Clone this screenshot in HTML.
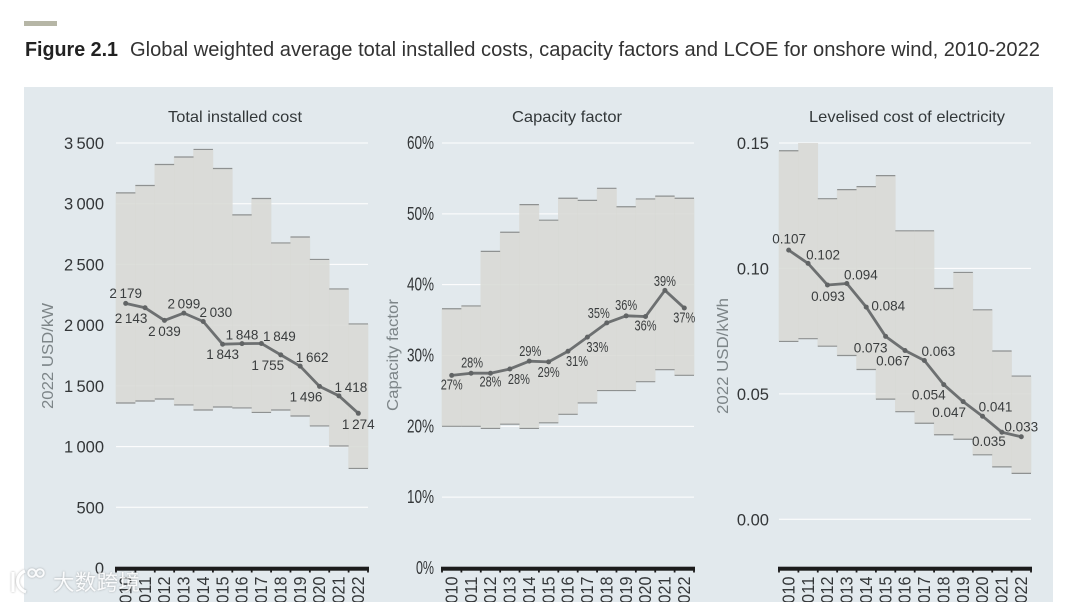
<!DOCTYPE html>
<html lang="en">
<head>
<meta charset="utf-8">
<title>Figure 2.1 Onshore wind costs</title>
<style>
html,body{margin:0;padding:0;background:#fff;width:1080px;height:602px;overflow:hidden}
svg{display:block;font-family:"Liberation Sans","Noto Sans CJK SC",sans-serif}
.wm{filter:drop-shadow(0 0 1px rgba(90,90,90,.55))}
</style>
</head>
<body>
<svg id="figure" width="1080" height="602" viewBox="0 0 1080 602" xmlns="http://www.w3.org/2000/svg">
  <rect x="24" y="21" width="33" height="5" fill="#b6b6a6"/>
  <text x="25" y="56" font-size="20" font-weight="bold" fill="#222" textLength="93" lengthAdjust="spacingAndGlyphs">Figure 2.1</text>
  <text x="130" y="56" font-size="20" fill="#333" textLength="910" lengthAdjust="spacingAndGlyphs">Global weighted average total installed costs, capacity factors and LCOE for onshore wind, 2010-2022</text>
  <rect x="24" y="87" width="1029" height="515" fill="#e2e9ed"/>
  <g id="charts"></g>
  <g class="wm" opacity="0.85">
    <g fill="none" stroke="#fff" stroke-width="3.2">
      <path d="M13 572 V592"/>
      <path d="M25 571 C15 575 15 588 26 592"/>
      <circle cx="32" cy="573" r="3.8" stroke-width="2"/>
      <circle cx="40" cy="573" r="3.8" stroke-width="2"/>
    </g>
    <text x="53" y="590" font-size="21.5" fill="#fff" textLength="87" font-family="'Noto Sans CJK SC',sans-serif">大数跨境</text>
  </g>
</svg>
<script>
const years = ['2010','2011','2012','2013','2014','2015','2016','2017','2018','2019','2020','2021','2022'];

const costHigh = [3089,3150,3323,3385,3447,3290,2908,3043,2677,2726,2541,2298,2010];
const costLow = [1359,1375,1392,1343,1301,1326,1318,1281,1301,1252,1170,1005,820];
const costAvg = [2179,2143,2039,2099,2030,1843,1848,1849,1755,1662,1496,1418,1274];
const costLabels = ['2\u2009179','2\u2009143','2\u2009039','2\u2009099','2\u2009030','1\u2009843','1\u2009848','1\u2009849','1\u2009755','1\u2009662','1\u2009496','1\u2009418','1\u2009274'];
const costTicks = [0,500,1000,1500,2000,2500,3000,3500];
const costTickLabels = ['0','500','1\u2009000','1\u2009500','2\u2009000','2\u2009500','3\u2009000','3\u2009500'];

const cfHigh = [36.6,37.0,44.7,47.4,51.3,49.1,52.2,51.9,53.6,51.0,52.1,52.5,52.2];
const cfLow = [20.0,20.0,19.7,20.3,19.7,20.5,21.7,23.3,25.05,25.05,26.3,28.0,27.2];
const cfAvg = [27.2,27.5,27.5,28.1,29.2,29.1,30.6,32.6,34.6,35.6,35.5,39.2,36.7];
const cfLabels = ['27%','28%','28%','28%','29%','29%','31%','33%','35%','36%','36%','39%','37%'];
const cfTicks = [0,10,20,30,40,50,60];
const cfTickLabels = ['0%','10%','20%','30%','40%','50%','60%'];

const lcoeHigh = [0.1469,0.151,0.1278,0.1314,0.1326,0.137,0.115,0.115,0.092,0.0984,0.0835,0.0671,0.0571];
const lcoeLow = [0.0709,0.072,0.069,0.0653,0.0597,0.0479,0.0429,0.0383,0.0337,0.0319,0.0257,0.0209,0.0183];
const lcoeAvg = [0.1073,0.102,0.0934,0.094,0.0846,0.0729,0.0673,0.0633,0.0537,0.0469,0.0411,0.0347,0.0329];
const lcoeLabels = ['0.107','0.102','0.093','0.094','0.084','0.073','0.067','0.063','0.054','0.047','0.041','0.035','0.033'];
const lcoeTicks = [0,0.05,0.10,0.15];
const lcoeTickLabels = ['0.00','0.05','0.10','0.15'];

const SVGNS = 'http://www.w3.org/2000/svg';
const root = document.getElementById('charts');
const PLOT_TOP = 143, AXIS_Y = 568, PLOT_W = 252;

function make(tag, parent, props, text) {
  const el = document.createElementNS(SVGNS, tag);
  for (const k in props) el.setAttribute(k, props[k]);
  if (text !== undefined) el.textContent = text;
  parent.appendChild(el);
  return el;
}

function drawChart(c) {
  const g = make('g', root, {});
  
  
  const bandW = PLOT_W / years.length;
  const xBand = i => c.x0 + i * bandW;
  const xMid = i => xBand(i) + bandW / 2;
  const y = v => c.y0 - (v - c.v0) * c.scale;

  const clip = make('clipPath', g, {id: c.id + '-clip'});
  make('rect', clip, {x: c.x0 - 2, y: PLOT_TOP, width: PLOT_W + 4, height: AXIS_Y - PLOT_TOP});

  const title = make('text', g, {x: c.titleX, y: 122, 'font-size': 16, fill: '#33383a', 'text-anchor': 'middle', textLength: c.titleLen, lengthAdjust: 'spacingAndGlyphs'}, c.title);
  
  

  const yTitle = make('text', g, {transform: 'translate(' + c.yTitleX + ',' + c.yTitleY + ') rotate(-90)', 'font-size': 16, fill: '#7d8588', 'text-anchor': 'middle', textLength: c.yTitleLen, lengthAdjust: 'spacingAndGlyphs'}, c.yTitle);
  
  

  c.ticks.forEach((t, i) => {
    const grid = make('line', g, {x1: c.x0, x2: c.x0 + PLOT_W, y1: y(t), y2: y(t), stroke: '#ffffff', 'stroke-width': 1});
    
    
    const p = {x: c.tickX, y: y(t) + 6, 'font-size': c.tickSize || 16.5, fill: '#333638', 'text-anchor': 'end'};
    if (c.tickLen) { p.textLength = c.tickLen(c.tickLabels[i]); p.lengthAdjust = 'spacingAndGlyphs'; }
    const lab = make('text', g, p, c.tickLabels[i]);
    
    
  });

  const bars = make('g', g, {'clip-path': 'url(#' + c.id + '-clip)'});
  
  
  years.forEach((yr, i) => {
    const top = y(c.high[i]), bot = y(c.low[i]);
    const bar = make('rect', bars, {x: xBand(i) - 0.3, y: top, width: bandW + 0.6, height: bot - top, fill: '#d8d9d5', 'fill-opacity': 0.87});
    
    
  });
  years.forEach((yr, i) => {
    const hi = make('line', bars, {x1: xBand(i), x2: xBand(i + 1), y1: y(c.high[i]), y2: y(c.high[i]), stroke: '#8e9191', 'stroke-width': 1.2});
    
    
    const lo = make('line', bars, {x1: xBand(i), x2: xBand(i + 1), y1: y(c.low[i]), y2: y(c.low[i]), stroke: '#8e9191', 'stroke-width': 1.2});
    
    
  });

  const axis = make('rect', g, {x: c.x0 - 1, y: AXIS_Y - 1.3, width: PLOT_W + 2, height: 4, fill: '#1c1c1c'});
  
  
  for (let i = 0; i <= years.length; i++) {
    const tick = make('line', g, {x1: xBand(i), x2: xBand(i), y1: AXIS_Y + 2, y2: AXIS_Y + 4.5, stroke: '#1c1c1c', 'stroke-width': 1.8});
    
    
  }
  years.forEach((yr, i) => {
    const lab = make('text', g, {transform: 'translate(' + (xMid(i) + 5.7) + ',576.5) rotate(-90)', 'font-size': 17.5, fill: '#333638', 'text-anchor': 'end', textLength: 36, lengthAdjust: 'spacingAndGlyphs'}, yr);
    
    
  });

  const pts = c.avg.map((v, i) => xMid(i) + ',' + y(v)).join(' ');
  const line = make('polyline', g, {points: pts, fill: 'none', stroke: '#6d7071', 'stroke-width': 2.8, 'stroke-linejoin': 'round'});
  
  
  c.avg.forEach((v, i) => {
    const dot = make('circle', g, {cx: xMid(i), cy: y(v), r: 2.5, fill: '#616465'});
    
    
  });
  c.avg.forEach((v, i) => {
    const p = {x: xMid(i) + c.dx[i], y: y(v) + c.dy[i], 'font-size': c.labelSize || 13.5, fill: '#3a3d3e', 'text-anchor': 'middle'};
    if (c.labelLen) { p.textLength = c.labelLen; p.lengthAdjust = 'spacingAndGlyphs'; }
    const lab = make('text', g, p, c.labels[i]);
    
    
  });
}

drawChart({
  id: 'installed-cost', title: 'Total installed cost', titleX: 235, titleLen: 134,
  yTitle: '2022 USD/kW', yTitleX: 53, yTitleY: 356, yTitleLen: 106,
  x0: 116, y0: AXIS_Y, v0: 0, scale: (AXIS_Y - PLOT_TOP) / 3500, tickX: 104,
  ticks: costTicks, tickLabels: costTickLabels,
  high: costHigh, low: costLow, avg: costAvg, labels: costLabels,
  dx: [0,-14,0,0,12.6,0,0,18,-13,12,-13.5,12,0],
  dy: [-5.5,15,15.5,-4.5,-4.5,15,-4,-2.5,15,-4,15,-4,15.5]
});
drawChart({
  id: 'capacity-factor', title: 'Capacity factor', titleX: 567, titleLen: 110,
  yTitle: 'Capacity factor', yTitleX: 398, yTitleY: 355, yTitleLen: 112,
  x0: 442, y0: AXIS_Y, v0: 0, scale: (AXIS_Y - PLOT_TOP) / 60, tickX: 434,
  ticks: cfTicks, tickLabels: cfTickLabels, tickSize: 18,
  tickLen: s => s.length === 2 ? 18 : 27,
  labelLen: 22, labelSize: 14.5,
  high: cfHigh, low: cfLow, avg: cfAvg, labels: cfLabels,
  dx: [0,1,0,9,1,0,9,10,-8,0,0,0,0],
  dy: [14,-5.5,13.5,15,-5,15,14.5,15,-5,-6,14,-4.5,14.5]
});
drawChart({
  id: 'lcoe', title: 'Levelised cost of electricity', titleX: 907, titleLen: 196,
  yTitle: '2022 USD/kWh', yTitleX: 728, yTitleY: 356, yTitleLen: 116,
  x0: 779, y0: 519.3, v0: 0, scale: (519.3 - PLOT_TOP) / 0.15, tickX: 769,
  ticks: lcoeTicks, tickLabels: lcoeTickLabels,
  high: lcoeHigh, low: lcoeLow, avg: lcoeAvg, labels: lcoeLabels,
  dx: [0.5,15,0.5,14,22,-15,-12,14,-15,-14,13,-13,0],
  dy: [-6.5,-4,16,-4,3.5,16,15,-4.5,15,15.5,-4.5,14,-5.5]
});
</script>
</body>
</html>
